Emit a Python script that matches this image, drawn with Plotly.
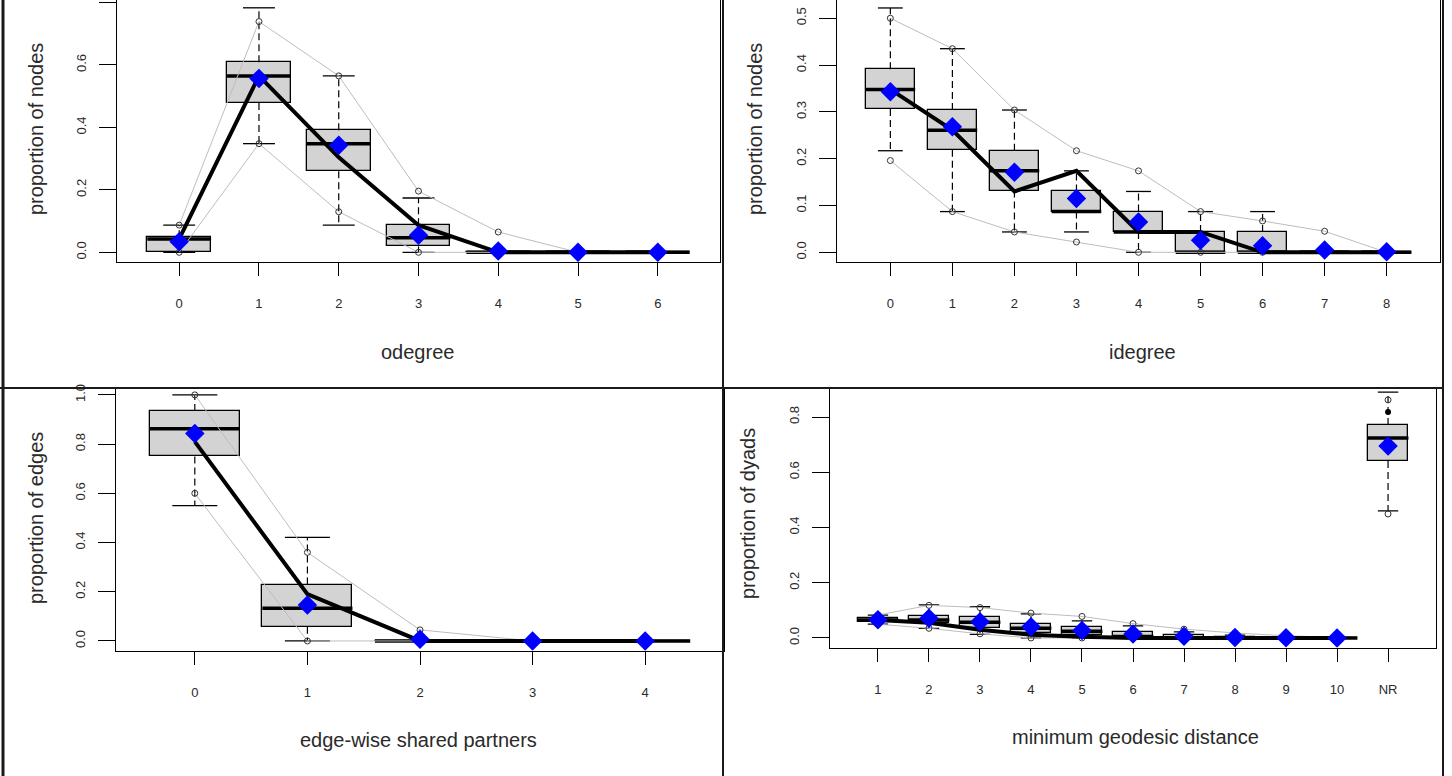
import plotly.graph_objects as go

W, H = 1452, 776

# ---------------- data ----------------
# Panel 1: odegree
od_cats = ["0", "1", "2", "3", "4", "5", "6"]
od_q1 = [0.0, 0.478, 0.26, 0.019, 0, 0, 0]
od_med = [0.043, 0.565, 0.348, 0.047, 0, 0, 0]
od_q3 = [0.048, 0.609, 0.391, 0.087, 0, 0, 0]
od_lo = [0.0, 0.348, 0.087, 0.0, 0, 0, 0]
od_hi = [0.087, 0.783, 0.565, 0.174, 0, 0, 0]
od_upper = [0.087, 0.739, 0.565, 0.196, 0.065, 0, 0]
od_lower = [0.0, 0.348, 0.13, 0.0, 0, 0, 0]
od_obs = [0.043, 0.565, 0.304, 0.087, 0, 0, 0]
od_mean = [0.034, 0.557, 0.343, 0.055, 0.004, 0, 0]

# Panel 2: idegree
id_cats = ["0", "1", "2", "3", "4", "5", "6", "7", "8"]
id_q1 = [0.306, 0.219, 0.132, 0.087, 0.0435, 0.0, 0.0, 0, 0]
id_med = [0.348, 0.261, 0.174, 0.087, 0.0435, 0.0, 0.0, 0, 0]
id_q3 = [0.391, 0.304, 0.217, 0.13, 0.087, 0.0435, 0.0435, 0, 0]
id_lo = [0.217, 0.087, 0.0435, 0.0435, 0.0, 0, 0, 0, 0]
id_hi = [0.522, 0.435, 0.304, 0.174, 0.13, 0.087, 0.087, 0, 0]
id_upper = [0.5, 0.435, 0.304, 0.217, 0.174, 0.087, 0.067, 0.045, 0]
id_lower = [0.196, 0.087, 0.0435, 0.022, 0, 0, 0, 0, 0]
id_obs = [0.348, 0.261, 0.13, 0.174, 0.0435, 0.0435, 0, 0, 0]
id_mean = [0.343, 0.268, 0.171, 0.115, 0.065, 0.026, 0.014, 0.005, 0.001]

# Panel 3: edge-wise shared partners
esp_cats = ["0", "1", "2", "3", "4"]
esp_q1 = [0.75, 0.058, 0, 0, 0]
esp_med = [0.862, 0.133, 0, 0, 0]
esp_q3 = [0.935, 0.229, 0, 0, 0]
esp_lo = [0.55, 0.0, 0, 0, 0]
esp_hi = [1.0, 0.421, 0, 0, 0]
esp_upper = [1.0, 0.36, 0.045, 0, 0]
esp_lower = [0.6, 0.0, 0, 0, 0]
esp_obs = [0.81, 0.19, 0, 0, 0]
esp_mean = [0.843, 0.146, 0.007, 0, 0]

# Panel 4: minimum geodesic distance
dist_cats = ["1", "2", "3", "4", "5", "6", "7", "8", "9", "10", "NR"]
dist_q1 = [0.057, 0.053, 0.037, 0.017, 0.011, 0, 0, 0, 0, 0, 0.641]
dist_med = [0.065, 0.065, 0.057, 0.035, 0.024, 0.005, 0, 0, 0, 0, 0.724]
dist_q3 = [0.071, 0.081, 0.075, 0.052, 0.039, 0.02, 0.012, 0.005, 0, 0, 0.771]
dist_lo = [0.05, 0.035, 0.013, 0, 0, 0, 0, 0, 0, 0, 0.46]
dist_hi = [0.083, 0.12, 0.113, 0.087, 0.062, 0.044, 0.022, 0.01, 0, 0, 0.89]
dist_upper = [0.083, 0.118, 0.11, 0.09, 0.078, 0.052, 0.032, 0.018, 0.008, 0.002, 0.862]
dist_lower = [0.05, 0.035, 0.015, 0, 0, 0, 0, 0, 0, 0, 0.449]
dist_obs = [0.065, 0.055, 0.03, 0.012, 0.004, 0, 0, 0, 0, 0]
dist_obs_nr = [0.818]
dist_mean = [0.066, 0.071, 0.059, 0.041, 0.027, 0.014, 0.006, 0.002, 0.001, 0.0, 0.695]

y_titles = ["proportion of nodes", "proportion of nodes", "proportion of edges", "proportion of dyads"]
x_titles = ["odegree", "idegree", "edge-wise shared partners", "minimum geodesic distance"]

FONT = "Liberation Sans, Arial, sans-serif"
TXT = "#2a2a2a"

fig = go.Figure()


def add_panel(k, cats, q1, med, q3, lo, hi, upper, lower, obs, mean,
              bound_n=None, obs_extra=None):
    xa = "x" if k == 1 else f"x{k}"
    ya = "y" if k == 1 else f"y{k}"
    n = len(cats)
    xs = list(range(1, n + 1))
    # boxes
    fig.add_trace(go.Bar(x=xs, y=[b - a for a, b in zip(q1, q3)], base=q1, width=0.8,
                         marker=dict(color="#d3d3d3", line=dict(color="black", width=1.3)),
                         xaxis=xa, yaxis=ya, showlegend=False, hoverinfo="skip"))
    # whiskers (dashed)
    wx, wy = [], []
    for x, a, b, l, h in zip(xs, q1, q3, lo, hi):
        wx += [x, x, None, x, x, None]
        wy += [b, h, None, a, l, None]
    fig.add_trace(go.Scatter(x=wx, y=wy, mode="lines", line=dict(color="black", width=1.2, dash="7px,4px"),
                             xaxis=xa, yaxis=ya, showlegend=False, hoverinfo="skip"))
    # caps
    cx, cy = [], []
    for x, l, h in zip(xs, lo, hi):
        cx += [x - 0.2, x + 0.2, None, x - 0.2, x + 0.2, None]
        cy += [h, h, None, l, l, None]
    fig.add_trace(go.Scatter(x=cx, y=cy, mode="lines", line=dict(color="black", width=1.3),
                             xaxis=xa, yaxis=ya, showlegend=False, hoverinfo="skip"))
    # medians
    mx, my = [], []
    for x, m in zip(xs, med):
        mx += [x - 0.4, x + 0.4, None]
        my += [m, m, None]
    fig.add_trace(go.Scatter(x=mx, y=my, mode="lines", line=dict(color="black", width=3.5),
                             xaxis=xa, yaxis=ya, showlegend=False, hoverinfo="skip"))
    # bounds (gray lines + circles)
    bn = bound_n if bound_n else n
    for arr in (upper, lower):
        fig.add_trace(go.Scatter(x=xs[:bn], y=arr[:bn], mode="lines",
                                 line=dict(color="#bdbdbd", width=1),
                                 xaxis=xa, yaxis=ya, showlegend=False, hoverinfo="skip"))
        fig.add_trace(go.Scatter(x=xs, y=arr, mode="markers",
                                 marker=dict(symbol="circle-open", size=6, color="#333333",
                                             line=dict(width=1)),
                                 xaxis=xa, yaxis=ya, showlegend=False, hoverinfo="skip"))
    # observed thick line
    fig.add_trace(go.Scatter(x=xs[:len(obs)], y=obs, mode="lines", line=dict(color="black", width=4),
                             xaxis=xa, yaxis=ya, showlegend=False, hoverinfo="skip"))
    if obs_extra is not None:
        fig.add_trace(go.Scatter(x=xs[len(obs):], y=obs_extra, mode="markers",
                                 marker=dict(symbol="circle", size=6, color="black"),
                                 xaxis=xa, yaxis=ya, showlegend=False, hoverinfo="skip"))
    # mean diamonds
    fig.add_trace(go.Scatter(x=xs, y=mean, mode="markers",
                             marker=dict(symbol="diamond", size=15, color="#0000ff"),
                             xaxis=xa, yaxis=ya, showlegend=False, hoverinfo="skip"))


add_panel(1, od_cats, od_q1, od_med, od_q3, od_lo, od_hi, od_upper, od_lower, od_obs, od_mean)
add_panel(2, id_cats, id_q1, id_med, id_q3, id_lo, id_hi, id_upper, id_lower, id_obs, id_mean)
add_panel(3, esp_cats, esp_q1, esp_med, esp_q3, esp_lo, esp_hi, esp_upper, esp_lower, esp_obs, esp_mean)
add_panel(4, dist_cats, dist_q1, dist_med, dist_q3, dist_lo, dist_hi, dist_upper, dist_lower,
          dist_obs, dist_mean, bound_n=10, obs_extra=dist_obs_nr)

# panel geometry in pixels: (left, right), (top, bottom), y-range, y-ticks
panels = [
    dict(px=(117, 720), py=(0, 262), yr=[-0.031, 0.808], yt=[0, 0.2, 0.4, 0.6, 0.8], cats=od_cats),
    dict(px=(837, 1440), py=(0, 262), yr=[-0.0207, 0.539], yt=[0, 0.1, 0.2, 0.3, 0.4, 0.5], cats=id_cats),
    dict(px=(116, 724), py=(388, 650.8), yr=[-0.04, 1.028], yt=[0, 0.2, 0.4, 0.6, 0.8, 1.0], cats=esp_cats),
    dict(px=(830, 1436), py=(388, 647.8), yr=[-0.0356, 0.905], yt=[0, 0.2, 0.4, 0.6, 0.8], cats=dist_cats),
]

layout = dict(width=W, height=H, margin=dict(l=0, r=0, t=0, b=0, autoexpand=False),
              paper_bgcolor="white", plot_bgcolor="white",
              font=dict(family=FONT, size=13, color=TXT), showlegend=False, bargap=0)

for i, p in enumerate(panels, start=1):
    n = len(p["cats"])
    pad = 0.04 * n
    xkey = "xaxis" if i == 1 else f"xaxis{i}"
    ykey = "yaxis" if i == 1 else f"yaxis{i}"
    xref = "x" if i == 1 else f"x{i}"
    yref = "y" if i == 1 else f"y{i}"
    layout[xkey] = dict(domain=[p["px"][0] / W, p["px"][1] / W], anchor=yref,
                        range=[0.5 - pad, n + 0.5 + pad], tickmode="array",
                        tickvals=list(range(1, n + 1)), ticktext=p["cats"],
                        showline=True, linecolor="black", linewidth=1.3,
                        ticks="outside", ticklen=13, tickwidth=1.2, tickcolor="black",
                        ticklabelstandoff=16, showgrid=False, zeroline=False,
                        automargin=False,
                        tickfont=dict(size=13, color=TXT, family=FONT))
    layout[ykey] = dict(domain=[1 - p["py"][1] / H, 1 - p["py"][0] / H], anchor=xref,
                        range=p["yr"], tickmode="array", tickvals=p["yt"],
                        ticktext=[f"{v:.1f}" for v in p["yt"]],
                        showline=True, mirror=True, linecolor="black", linewidth=1.3,
                        ticks="outside", ticklen=17, tickwidth=1.2, tickcolor="black",
                        tickangle=-90, ticklabelstandoff=8,
                        showgrid=False, zeroline=False, automargin=False,
                        tickfont=dict(size=13, color=TXT, family=FONT))

fig.update_layout(**layout)

# axis titles as annotations (pixel positions)
ytitle_pos = [(36, 129), (755, 129), (36, 518), (748, 514)]
xtitle_pos = [(417, 352), (1142, 352), (418, 740), (1135, 737)]
for t, (x, y) in zip(y_titles, ytitle_pos):
    fig.add_annotation(text=t, x=x / W, y=1 - y / H, xref="paper", yref="paper",
                       showarrow=False, textangle=-90, xanchor="center", yanchor="middle",
                       font=dict(size=20, color=TXT, family=FONT))
for t, (x, y) in zip(x_titles, xtitle_pos):
    fig.add_annotation(text=t, x=x / W, y=1 - y / H, xref="paper", yref="paper",
                       showarrow=False, xanchor="center", yanchor="middle",
                       font=dict(size=20, color=TXT, family=FONT))

# panel frame lines
frame = [((3, 0), (3, H), 3), ((723, 0), (723, H), 2), ((0, 388), (1443, 388), 2), ((1443, 0), (1443, H), 2)]
for (x0, y0), (x1, y1), w in frame:
    fig.add_shape(type="line", xref="paper", yref="paper",
                  x0=x0 / W, y0=1 - y0 / H, x1=x1 / W, y1=1 - y1 / H,
                  line=dict(color="#1a1a1a", width=w))

fig.write_html("out.html", config={"displayModeBar": False},
               post_script="document.body.style.margin='0';document.body.style.overflow='hidden';")
